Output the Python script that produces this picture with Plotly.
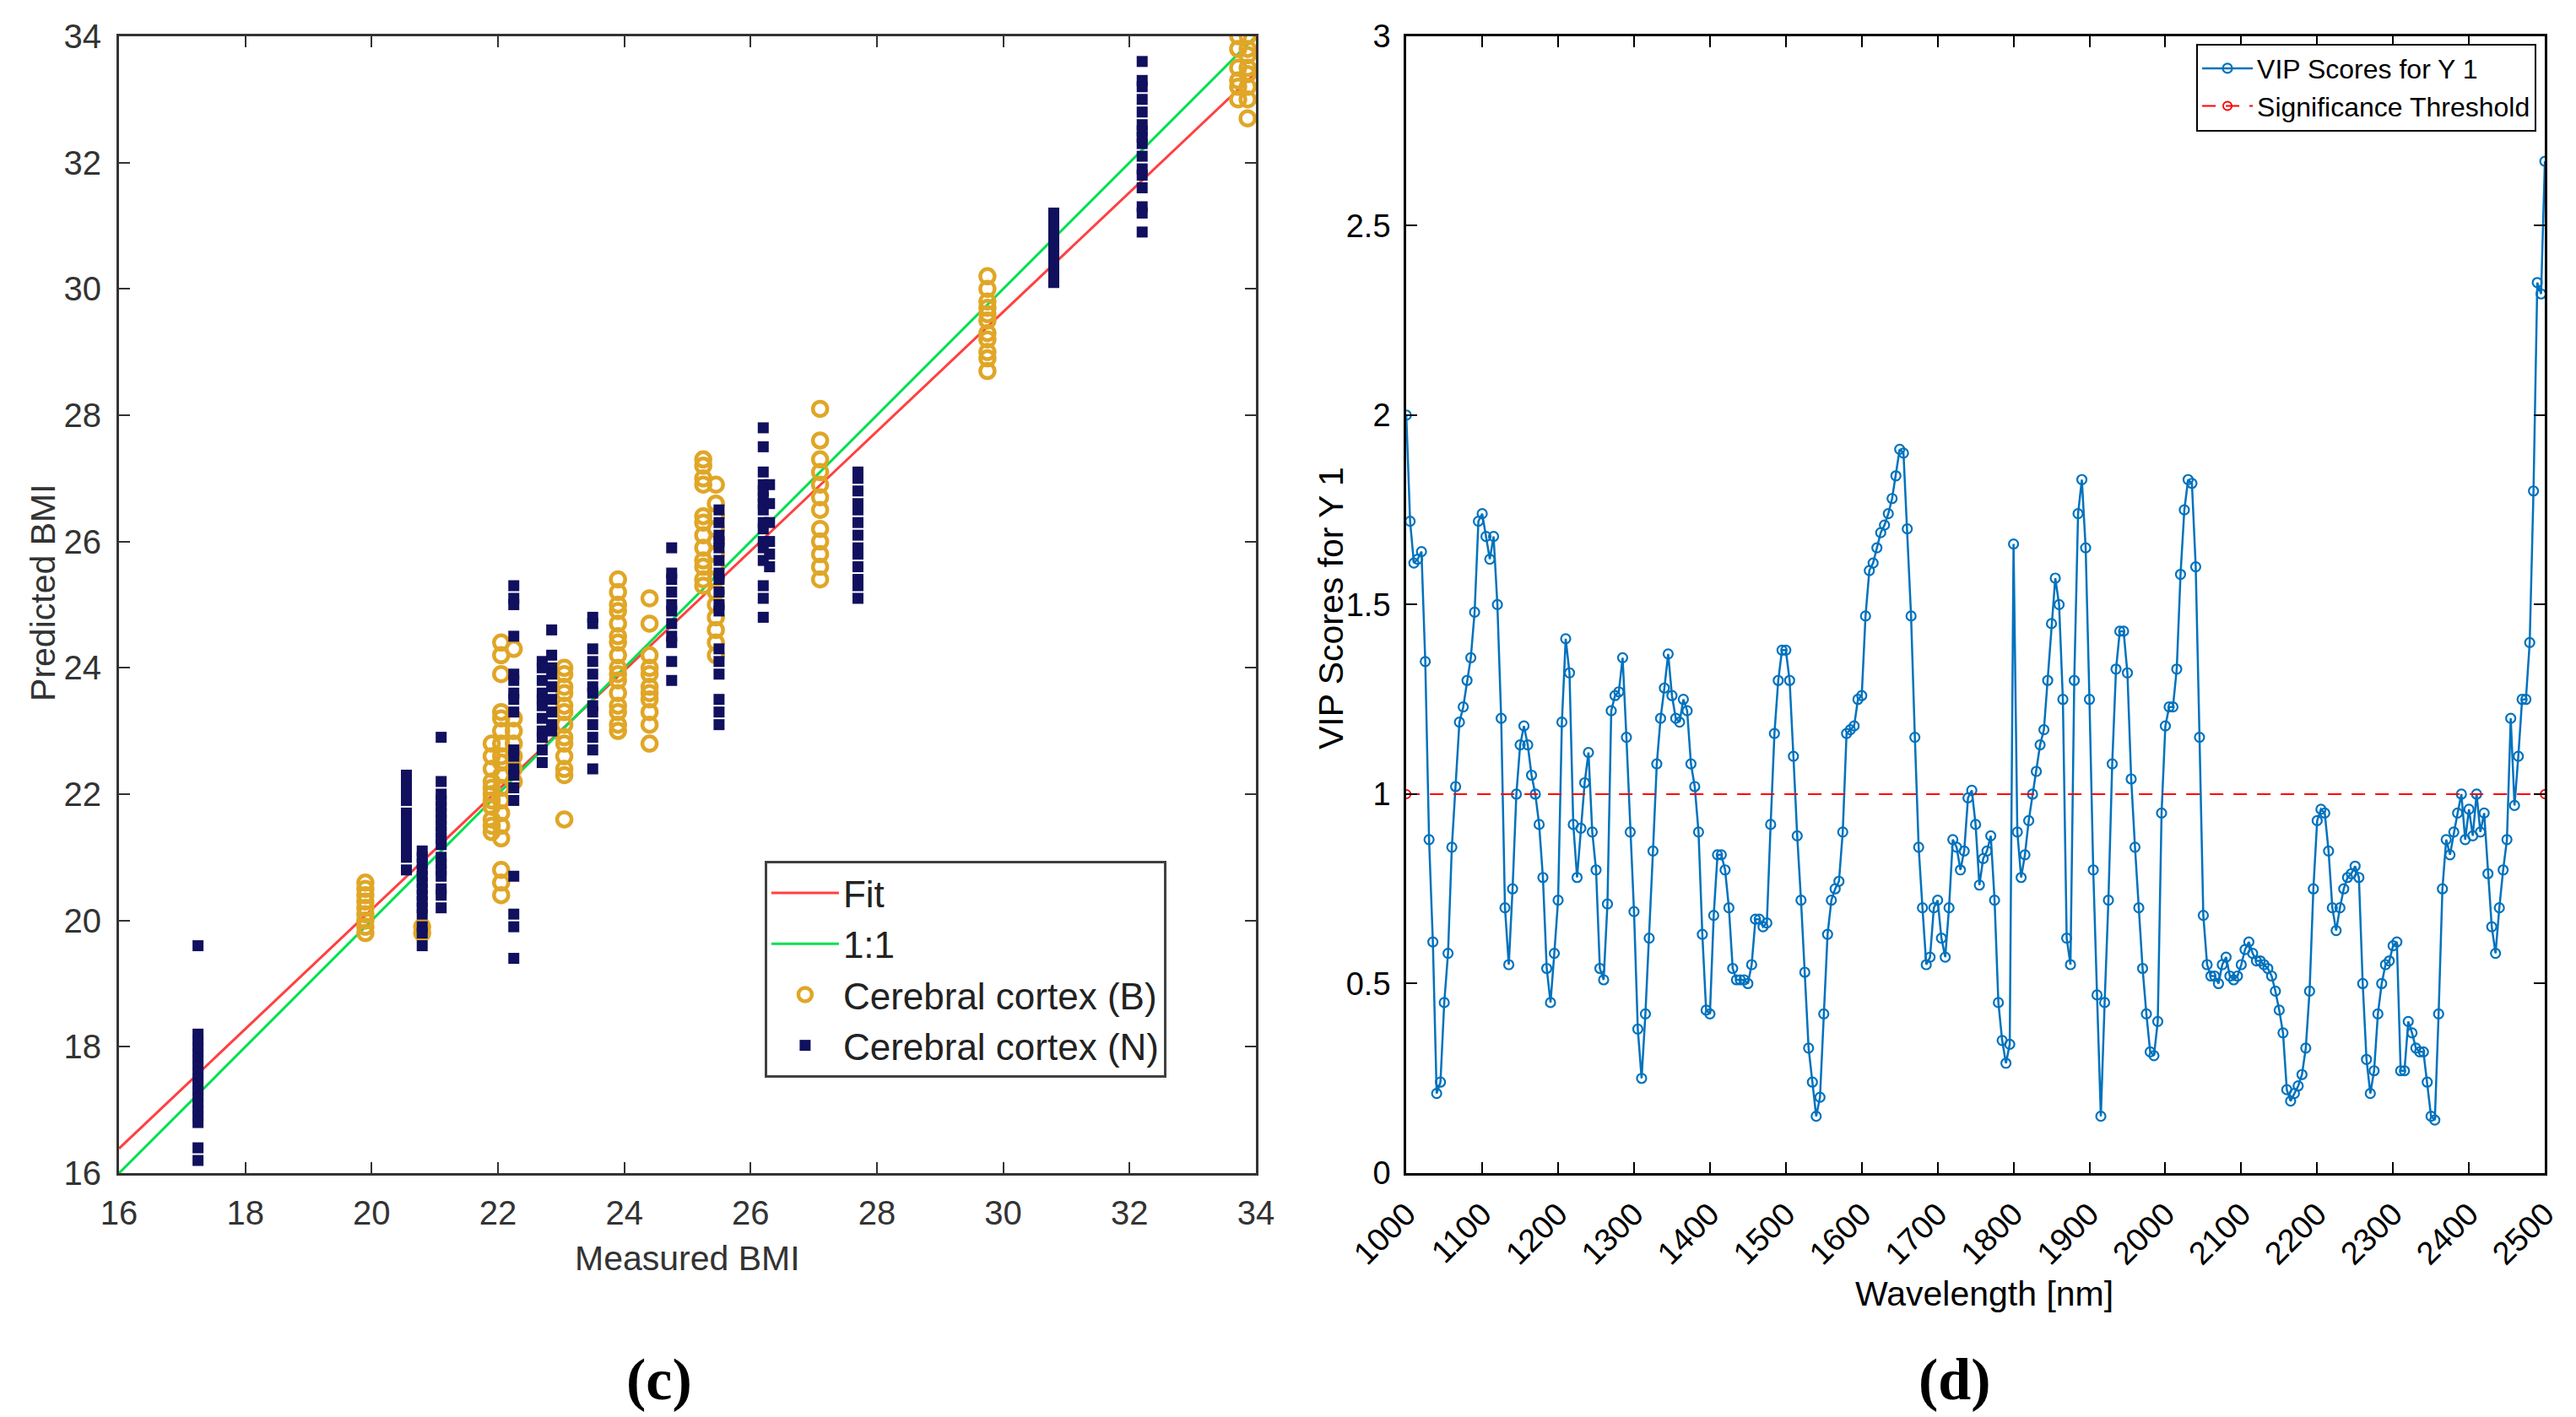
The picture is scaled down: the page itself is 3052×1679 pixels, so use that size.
import plotly.graph_objects as go

# ---- panel (c): measured vs predicted BMI ----
# each entry of *_MEASURED is one column of points, matching list in *_PREDICTED
B_MEASURED = [19.9, 20.8, 21.9, 22.05, 22.25, 23.05, 23.9, 24.4, 25.25, 25.45, 27.1, 29.75, 33.72, 33.87]
B_PREDICTED = [
    [20.6, 20.5, 20.4, 20.3, 20.2, 20.1, 20.0, 19.9, 19.8],
    [19.9, 19.8],
    [22.8, 22.6, 22.4, 22.2, 22.1, 22.0, 21.9, 21.8, 21.6, 21.5, 21.4],
    [24.4, 24.2, 23.9, 23.3, 23.2, 23.0, 22.8, 22.6, 22.5, 22.3, 22.1, 21.9, 21.7, 21.5, 21.3, 20.8, 20.6, 20.4],
    [24.3, 23.2, 23.0, 22.8, 22.6, 22.4, 22.2],
    [24.0, 23.9, 23.7, 23.6, 23.4, 23.3, 23.1, 22.9, 22.8, 22.6, 22.4, 22.3, 21.6],
    [25.4, 25.2, 25.0, 24.9, 24.7, 24.5, 24.4, 24.2, 24.0, 23.9, 23.8, 23.6, 23.4, 23.3, 23.1, 23.0],
    [25.1, 24.7, 24.2, 24.0, 23.9, 23.7, 23.6, 23.5, 23.3, 23.1, 22.8],
    [27.3, 27.2, 27.0, 26.9, 26.4, 26.3, 26.1, 25.9, 25.7, 25.6, 25.4, 25.3],
    [26.9, 26.6, 26.4, 26.2, 26.0, 25.8, 25.6, 25.4, 25.2, 25.0, 24.8, 24.6, 24.4, 24.2],
    [28.1, 27.6, 27.3, 27.1, 26.9, 26.7, 26.5, 26.2, 26.0, 25.8, 25.6, 25.4],
    [30.2, 30.0, 29.8, 29.7, 29.6, 29.5, 29.3, 29.2, 29.0, 28.9, 28.7],
    [34.0, 33.8, 33.5, 33.3, 33.2, 33.0],
    [34.0, 33.8, 33.7, 33.5, 33.4, 33.2, 33.0, 32.7],
]
N_MEASURED = [17.25, 20.55, 20.8, 21.1, 22.25, 22.7, 22.85, 23.5, 24.75, 25.5, 26.2, 26.3, 27.7, 30.8, 32.2]
N_PREDICTED = [
    [19.6, 18.2, 18.1, 18.0, 17.9, 17.8, 17.7, 17.6, 17.5, 17.4, 17.3, 17.2, 17.1, 17.0, 16.9, 16.8, 16.4, 16.2],
    [22.3, 22.2, 22.1, 22.0, 21.9, 21.7, 21.6, 21.5, 21.4, 21.3, 21.2, 21.1, 21.0, 20.8],
    [21.1, 21.0, 20.9, 20.8, 20.7, 20.6, 20.5, 20.4, 20.3, 20.2, 20.1, 19.9, 19.8, 19.6],
    [22.9, 22.2, 22.0, 21.9, 21.8, 21.7, 21.6, 21.5, 21.4, 21.3, 21.2, 21.0, 20.9, 20.8, 20.7, 20.5, 20.4, 20.2],
    [25.3, 25.1, 25.0, 24.5, 23.9, 23.8, 23.6, 23.5, 23.3, 22.7, 22.6, 22.4, 22.3, 22.1, 21.9, 20.7, 20.1, 19.9, 19.4],
    [24.1, 24.0, 23.8, 23.6, 23.5, 23.4, 23.2, 23.0, 22.9, 22.7, 22.5],
    [24.6, 24.2, 24.0, 23.9, 23.7, 23.5, 23.3, 23.1, 23.0],
    [24.8, 24.7, 24.3, 24.1, 23.9, 23.7, 23.6, 23.4, 23.3, 23.1, 22.9, 22.7, 22.4],
    [25.9, 25.5, 25.4, 25.2, 25.0, 24.9, 24.7, 24.5, 24.4, 24.1, 23.8],
    [26.5, 26.3, 26.1, 26.0, 25.9, 25.7, 25.5, 25.4, 25.2, 25.0, 24.9, 24.3, 24.1, 23.9, 23.5, 23.3, 23.1],
    [27.8, 27.5, 27.1, 26.9, 26.8, 26.7, 26.6, 26.5, 26.3, 26.2, 26.0, 25.9, 25.7, 25.3, 25.1, 24.8],
    [26.9, 26.6, 26.3, 26.0, 25.8, 25.6],
    [27.1, 27.0, 26.8, 26.6, 26.5, 26.3, 26.1, 25.9, 25.8, 25.6, 25.4, 25.3, 25.1],
    [31.2, 31.1, 31.0, 30.9, 30.8, 30.7, 30.6, 30.5, 30.4, 30.3, 30.2, 30.1],
    [33.6, 33.3, 33.2, 33.0, 32.8, 32.6, 32.5, 32.4, 32.3, 32.1, 31.9, 31.8, 31.6, 31.3, 31.2, 30.9],
]
FIT_X = [16, 34]
FIT_Y = [16.39, 33.42]
ONE_X = [16, 34]
ONE_Y = [16, 34]
BMI_TICKS = [16, 18, 20, 22, 24, 26, 28, 30, 32, 34]

# ---- panel (d): VIP scores, one value every 5 nm ----
WAVELENGTH = list(range(1000, 2501, 5))
VIP = [
    2.00, 1.72, 1.61, 1.62, 1.64, 1.35, 0.88, 0.61, 0.21, 0.24,
    0.45, 0.58, 0.86, 1.02, 1.19, 1.23, 1.30, 1.36, 1.48, 1.72,
    1.74, 1.68, 1.62, 1.68, 1.50, 1.20, 0.70, 0.55, 0.75, 1.00,
    1.13, 1.18, 1.13, 1.05, 1.00, 0.92, 0.78, 0.54, 0.45, 0.58,
    0.72, 1.19, 1.41, 1.32, 0.92, 0.78, 0.91, 1.03, 1.11, 0.90,
    0.80, 0.54, 0.51, 0.71, 1.22, 1.26, 1.27, 1.36, 1.15, 0.90,
    0.69, 0.38, 0.25, 0.42, 0.62, 0.85, 1.08, 1.20, 1.28, 1.37,
    1.26, 1.20, 1.19, 1.25, 1.22, 1.08, 1.02, 0.90, 0.63, 0.43,
    0.42, 0.68, 0.84, 0.84, 0.80, 0.70, 0.54, 0.51, 0.51, 0.51,
    0.50, 0.55, 0.67, 0.67, 0.65, 0.66, 0.92, 1.16, 1.30, 1.38,
    1.38, 1.30, 1.10, 0.89, 0.72, 0.53, 0.33, 0.24, 0.15, 0.20,
    0.42, 0.63, 0.72, 0.75, 0.77, 0.90, 1.16, 1.17, 1.18, 1.25,
    1.26, 1.47, 1.59, 1.61, 1.65, 1.69, 1.71, 1.74, 1.78, 1.84,
    1.91, 1.90, 1.70, 1.47, 1.15, 0.86, 0.70, 0.55, 0.57, 0.70,
    0.72, 0.62, 0.57, 0.70, 0.88, 0.86, 0.80, 0.85, 0.99, 1.01,
    0.92, 0.76, 0.83, 0.85, 0.89, 0.72, 0.45, 0.35, 0.29, 0.34,
    1.66, 0.90, 0.78, 0.84, 0.93, 1.00, 1.06, 1.13, 1.17, 1.30,
    1.45, 1.57, 1.50, 1.25, 0.62, 0.55, 1.30, 1.74, 1.83, 1.65,
    1.25, 0.80, 0.47, 0.15, 0.45, 0.72, 1.08, 1.33, 1.43, 1.43,
    1.32, 1.04, 0.86, 0.70, 0.54, 0.42, 0.32, 0.31, 0.40, 0.95,
    1.18, 1.23, 1.23, 1.33, 1.58, 1.75, 1.83, 1.82, 1.60, 1.15,
    0.68, 0.55, 0.52, 0.52, 0.50, 0.55, 0.57, 0.52, 0.51, 0.52,
    0.55, 0.59, 0.61, 0.58, 0.56, 0.56, 0.55, 0.54, 0.52, 0.48,
    0.43, 0.37, 0.22, 0.19, 0.21, 0.23, 0.26, 0.33, 0.48, 0.75,
    0.93, 0.96, 0.95, 0.85, 0.70, 0.64, 0.70, 0.75, 0.78, 0.79,
    0.81, 0.78, 0.50, 0.30, 0.21, 0.27, 0.42, 0.50, 0.55, 0.56,
    0.60, 0.61, 0.27, 0.27, 0.40, 0.37, 0.33, 0.32, 0.32, 0.24,
    0.15, 0.14, 0.42, 0.75, 0.88, 0.84, 0.90, 0.95, 1.00, 0.88,
    0.96, 0.89, 1.00, 0.90, 0.95, 0.79, 0.65, 0.58, 0.70, 0.80,
    0.88, 1.20, 0.97, 1.10, 1.25, 1.25, 1.40, 1.80, 2.35, 2.32,
    2.67,
]
THRESH_X = [1000, 2500]
THRESH_Y = [1, 1]
WL_TICKS = list(range(1000, 2501, 100))

SANS = "Liberation Sans, Arial, sans-serif"
GREY = "#333333"


def flatten(xs, ys):
    fx, fy = [], []
    for x, col in zip(xs, ys):
        fx += [x] * len(col)
        fy += col
    return fx, fy


bx, by = flatten(B_MEASURED, B_PREDICTED)
nx, ny = flatten(N_MEASURED, N_PREDICTED)

fig = go.Figure()

fig.add_trace(go.Scatter(x=FIT_X, y=FIT_Y, mode='lines', name='Fit',
                         line=dict(color='#ff4040', width=3)))
fig.add_trace(go.Scatter(x=ONE_X, y=ONE_Y, mode='lines', name='1:1',
                         line=dict(color='#00e050', width=3)))
fig.add_trace(go.Scatter(x=bx, y=by, mode='markers', name='Cerebral cortex (B)',
                         marker=dict(symbol='circle-open', size=17, color='#e0a626',
                                     line=dict(width=4.5, color='#e0a626'))))
fig.add_trace(go.Scatter(x=nx, y=ny, mode='markers', name='Cerebral cortex (N)',
                         marker=dict(symbol='square', size=13, color='#10105e')))

fig.add_trace(go.Scatter(x=WAVELENGTH, y=VIP, mode='lines+markers', name='VIP Scores for Y 1',
                         xaxis='x2', yaxis='y2', legend='legend2',
                         line=dict(color='#0072bd', width=2.5),
                         marker=dict(symbol='circle-open', size=11, color='#0072bd',
                                     line=dict(width=2.2, color='#0072bd'))))
fig.add_trace(go.Scatter(x=THRESH_X, y=THRESH_Y, mode='lines+markers', name='Significance Threshold',
                         xaxis='x2', yaxis='y2', legend='legend2',
                         line=dict(color='#ff0000', width=2, dash='16px,12px'),
                         marker=dict(symbol='circle-open', size=10, color='#ff0000',
                                     line=dict(width=2, color='#ff0000'))))

axis_c = dict(range=[16, 34], tickvals=BMI_TICKS, ticks='inside', ticklen=13, tickwidth=2,
              tickcolor=GREY, showline=True, linecolor=GREY, linewidth=3, mirror='ticks',
              showgrid=False, zeroline=False, ticklabelstandoff=10, automargin=False,
              tickfont=dict(family=SANS, size=40, color=GREY))
axis_d = dict(ticks='inside', ticklen=13, tickwidth=2, tickcolor='black', showline=True,
              linecolor='black', linewidth=3, mirror='ticks', showgrid=False, zeroline=False,
              ticklabelstandoff=8, automargin=False,
              tickfont=dict(family=SANS, size=38, color='black'))

fig.update_layout(
    width=3052, height=1679,
    margin=dict(l=0, r=0, t=0, b=0, autoexpand=False),
    paper_bgcolor='white', plot_bgcolor='white',
    xaxis=dict(domain=[0.0436, 0.4849], anchor='y', **axis_c),
    yaxis=dict(domain=[0.1769, 0.9792], anchor='x', **axis_c),
    xaxis2=dict(domain=[0.5433, 0.9853], anchor='y2', range=[1000, 2500], tickvals=WL_TICKS,
                tickangle=-45, **axis_d),
    yaxis2=dict(domain=[0.1769, 0.9792], anchor='x2', range=[0, 3], dtick=0.5, **axis_d),
    legend=dict(x=0.2942, y=0.3973, xanchor='left', yanchor='top', bgcolor='white',
                bordercolor='#404040', borderwidth=3, itemwidth=80,
                font=dict(family=SANS, size=44, color='#222222')),
    legend2=dict(x=0.982, y=0.974, xanchor='right', yanchor='top', bgcolor='white',
                 bordercolor='black', borderwidth=2, itemwidth=60,
                 font=dict(family=SANS, size=32, color='black')),
    showlegend=True,
)

titles = [
    ("Predicted BMI", 0.0141, 0.5867, -90, GREY),
    ("Measured BMI", 0.2641, 0.1167, 0, GREY),
    ("VIP Scores for Y 1", 0.5141, 0.5753, -90, 'black'),
    ("Wavelength [nm]", 0.7677, 0.0917, 0, 'black'),
]
for text, x, y, angle, color in titles:
    fig.add_annotation(text=text, xref='paper', yref='paper', x=x, y=y, textangle=angle,
                       showarrow=False, xanchor='center', yanchor='middle',
                       font=dict(family=SANS, size=41, color=color))

for text, x in [("(c)", 0.2533), ("(d)", 0.7562)]:
    fig.add_annotation(text="<b>" + text + "</b>", xref='paper', yref='paper', x=x, y=0.031,
                       showarrow=False, xanchor='center', yanchor='middle',
                       font=dict(family="Liberation Serif, Times New Roman, serif", size=70, color='black'))

fig.write_html("out.html")
